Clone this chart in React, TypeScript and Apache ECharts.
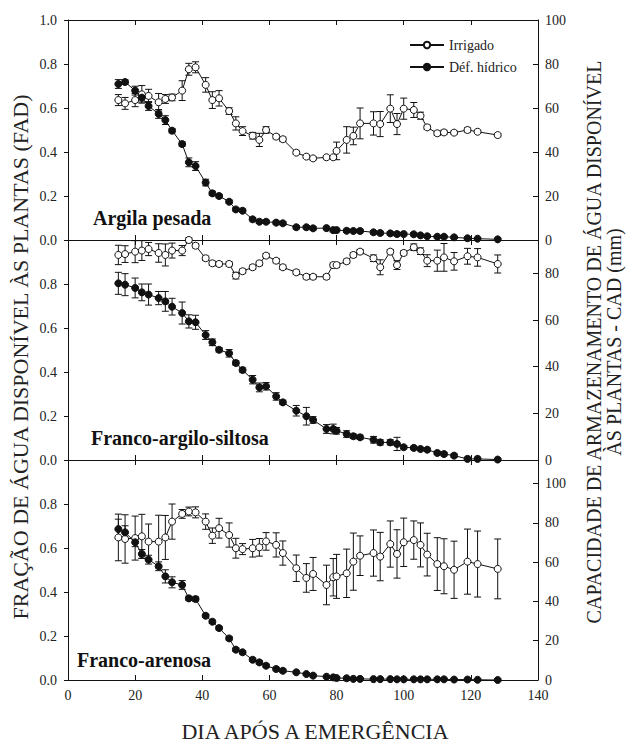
import React, { useEffect, useRef } from "react";
import * as echarts from "echarts";

// Days after emergence (shared sampling days)
const DAYS = [15, 17, 20, 22, 24, 27, 29, 31, 34, 36, 38, 41, 43, 45, 48, 50, 52, 55, 57, 59, 62, 64, 68, 71, 73, 77, 79, 80, 83, 85, 87, 91, 93, 96, 98, 100, 103, 105, 107, 110, 112, 115, 119, 122, 128];

// Argila pesada
const ARG_IRR = [0.636, 0.621, 0.636, 0.662, 0.655, 0.626, 0.641, 0.648, 0.679, 0.776, 0.785, 0.705, 0.636, 0.644, 0.586, 0.53, 0.495, 0.474, 0.455, 0.5, 0.47, 0.458, 0.397, 0.379, 0.371, 0.376, 0.376, 0.405, 0.455, 0.473, 0.53, 0.53, 0.527, 0.597, 0.527, 0.597, 0.591, 0.565, 0.512, 0.485, 0.489, 0.488, 0.5, 0.492, 0.477];
const ARG_IRR_ERR = [0.025, 0.027, 0.03, 0.04, 0.03, 0.04, 0.02, 0.015, 0.045, 0.027, 0.025, 0.033, 0.038, 0.035, 0.015, 0.03, 0.02, 0.015, 0.03, 0.015, 0.01, 0.01, 0.008, 0.008, 0.008, 0.008, 0.008, 0.04, 0.06, 0.04, 0.07, 0.053, 0.057, 0.063, 0.048, 0.048, 0.034, 0.016, 0.01, 0.01, 0.01, 0.008, 0.01, 0.008, 0.008];
const ARG_DEF = [0.709, 0.718, 0.679, 0.647, 0.609, 0.573, 0.545, 0.497, 0.436, 0.353, 0.336, 0.261, 0.212, 0.2, 0.174, 0.139, 0.133, 0.094, 0.083, 0.083, 0.079, 0.076, 0.058, 0.058, 0.053, 0.054, 0.045, 0.045, 0.042, 0.041, 0.041, 0.035, 0.032, 0.03, 0.027, 0.027, 0.026, 0.021, 0.017, 0.015, 0.015, 0.012, 0.008, 0.006, 0.003];
const ARG_DEF_ERR = [0.02, 0.01, 0.02, 0.02, 0.02, 0.02, 0.02, 0.01, 0.01, 0.02, 0.02, 0.015, 0.01, 0.008, 0.008, 0.008, 0.008, 0.008, 0.008, 0.008, 0.008, 0.008, 0.008, 0.008, 0.008, 0.008, 0.008, 0.008, 0.008, 0.008, 0.008, 0.008, 0.008, 0.008, 0.008, 0.008, 0.008, 0.006, 0.006, 0.006, 0.006, 0.005, 0.005, 0.005, 0.005];

// Franco-argilo-siltosa
const FAS_IRR = [0.932, 0.936, 0.947, 0.952, 0.959, 0.941, 0.932, 0.952, 0.952, 1.0, 0.974, 0.917, 0.894, 0.891, 0.891, 0.838, 0.858, 0.876, 0.894, 0.929, 0.906, 0.876, 0.853, 0.833, 0.833, 0.833, 0.886, 0.886, 0.903, 0.932, 0.947, 0.917, 0.876, 0.947, 0.886, 0.941, 0.967, 0.949, 0.906, 0.906, 0.921, 0.903, 0.926, 0.921, 0.891];
const FAS_IRR_ERR = [0.044, 0.038, 0.05, 0.045, 0.03, 0.042, 0.05, 0.034, 0.023, 0.01, 0.01, 0.01, 0.01, 0.01, 0.01, 0.015, 0.01, 0.01, 0.01, 0.01, 0.01, 0.01, 0.01, 0.01, 0.01, 0.01, 0.01, 0.01, 0.01, 0.01, 0.01, 0.015, 0.034, 0.01, 0.02, 0.01, 0.015, 0.015, 0.027, 0.048, 0.063, 0.04, 0.036, 0.04, 0.041];
const FAS_DEF = [0.803, 0.797, 0.782, 0.762, 0.752, 0.736, 0.721, 0.697, 0.668, 0.63, 0.626, 0.568, 0.535, 0.501, 0.485, 0.441, 0.409, 0.365, 0.33, 0.335, 0.289, 0.262, 0.224, 0.199, 0.182, 0.141, 0.141, 0.133, 0.118, 0.108, 0.103, 0.092, 0.08, 0.08, 0.073, 0.058, 0.055, 0.05, 0.047, 0.032, 0.027, 0.02, 0.005, 0.005, 0.002];
const FAS_DEF_ERR = [0.05, 0.05, 0.045, 0.038, 0.048, 0.03, 0.045, 0.038, 0.05, 0.03, 0.032, 0.02, 0.015, 0.01, 0.017, 0.01, 0.01, 0.019, 0.02, 0.017, 0.017, 0.01, 0.024, 0.04, 0.015, 0.02, 0.022, 0.015, 0.015, 0.01, 0.01, 0.015, 0.012, 0.012, 0.03, 0.008, 0.008, 0.008, 0.008, 0.008, 0.008, 0.008, 0.008, 0.008, 0.005];

// Franco-arenosa
const FAR_IRR = [0.648, 0.641, 0.645, 0.653, 0.629, 0.629, 0.648, 0.72, 0.755, 0.766, 0.762, 0.72, 0.656, 0.69, 0.659, 0.599, 0.595, 0.599, 0.603, 0.63, 0.614, 0.577, 0.508, 0.464, 0.482, 0.432, 0.467, 0.471, 0.485, 0.538, 0.565, 0.577, 0.561, 0.618, 0.573, 0.626, 0.636, 0.614, 0.57, 0.527, 0.517, 0.501, 0.538, 0.527, 0.505];
const FAR_IRR_ERR = [0.106, 0.11, 0.1, 0.1, 0.08, 0.12, 0.1, 0.08, 0.02, 0.02, 0.025, 0.035, 0.035, 0.045, 0.055, 0.045, 0.025, 0.04, 0.04, 0.04, 0.055, 0.055, 0.06, 0.065, 0.075, 0.09, 0.085, 0.1, 0.11, 0.13, 0.09, 0.105, 0.11, 0.105, 0.11, 0.11, 0.087, 0.1, 0.097, 0.12, 0.125, 0.13, 0.148, 0.15, 0.136];
const FAR_DEF = [0.686, 0.671, 0.626, 0.573, 0.547, 0.517, 0.471, 0.444, 0.432, 0.371, 0.368, 0.292, 0.265, 0.236, 0.189, 0.138, 0.126, 0.092, 0.08, 0.065, 0.05, 0.042, 0.035, 0.027, 0.02, 0.015, 0.012, 0.009, 0.008, 0.005, 0.005, 0.004, 0.004, 0.004, 0.003, 0.003, 0.003, 0.003, 0.003, 0.003, 0.003, 0.002, 0.002, 0.001, 0.0];
const FAR_DEF_ERR = [0.045, 0.03, 0.02, 0.02, 0.02, 0.02, 0.03, 0.025, 0.02, 0.01, 0.01, 0.008, 0.008, 0.008, 0.008, 0.008, 0.008, 0.008, 0.008, 0.008, 0.008, 0.008, 0.006, 0.006, 0.006, 0.006, 0.006, 0.006, 0.006, 0.005, 0.005, 0.005, 0.005, 0.005, 0.005, 0.005, 0.005, 0.005, 0.005, 0.005, 0.005, 0.005, 0.005, 0.005, 0.005];

const PANEL_LABELS = ["Argila pesada", "Franco-argilo-siltosa", "Franco-arenosa"];
const SERIES_NAMES = ["Irrigado", "Déf. hídrico"];
// right-axis (CAD, mm) value at FAD = 1.0 for each soil
const CAD_MAX = [100, 94.3, 112];
const CAD_INTERVAL = 20;

const PANELS = [
  { irr: ARG_IRR, irrErr: ARG_IRR_ERR, def: ARG_DEF, defErr: ARG_DEF_ERR },
  { irr: FAS_IRR, irrErr: FAS_IRR_ERR, def: FAS_DEF, defErr: FAS_DEF_ERR },
  { irr: FAR_IRR, irrErr: FAR_IRR_ERR, def: FAR_DEF, defErr: FAR_DEF_ERR },
];

const FONT = "Liberation Serif";
const TOPS = [20, 240, 460];
const LABEL_POS = [
  [93, 208],
  [91, 428],
  [77, 650],
];

const errRender = (params: any, api: any) => {
  const x = api.value(0);
  const y = api.value(1);
  const e = api.value(2);
  const t = api.coord([x, y + e]);
  const b = api.coord([x, y - e]);
  const hw = 3.5;
  return {
    type: "group",
    children: [
      { type: "line", shape: { x1: t[0], y1: t[1], x2: b[0], y2: b[1] }, style: { stroke: "#111", lineWidth: 1 } },
      { type: "line", shape: { x1: t[0] - hw, y1: t[1], x2: t[0] + hw, y2: t[1] }, style: { stroke: "#111", lineWidth: 1 } },
      { type: "line", shape: { x1: b[0] - hw, y1: b[1], x2: b[0] + hw, y2: b[1] }, style: { stroke: "#111", lineWidth: 1 } },
    ],
  };
};

const cadFmt = (v: number) =>
  Math.abs(v / CAD_INTERVAL - Math.round(v / CAD_INTERVAL)) < 1e-6 ? String(Math.round(v)) : "";

export default function App() {
  const ref = useRef<HTMLDivElement>(null);
  useEffect(() => {
    document.body.style.margin = "0";
    if (!ref.current) return;
    const chart = echarts.init(ref.current, null, { renderer: "svg" });

    const grid: any[] = [];
    const xAxis: any[] = [];
    const yAxis: any[] = [];
    const series: any[] = [];

    PANELS.forEach((p, i) => {
      grid.push({ left: 68, width: 470, top: TOPS[i], height: 220 });
      xAxis.push({
        type: "value",
        gridIndex: i,
        position: "bottom",
        min: 0,
        max: 140,
        interval: 20,
        axisLine: { show: true, onZero: false, lineStyle: { color: "#111", width: 1 } },
        axisTick: { show: true, inside: true, length: 5, lineStyle: { color: "#111" } },
        axisLabel: { show: i === 2, margin: 8, fontFamily: FONT, fontSize: 14, color: "#222" },
        splitLine: { show: false },
      });
      xAxis.push({
        type: "value",
        gridIndex: i,
        position: "top",
        min: 0,
        max: 140,
        interval: 20,
        axisLine: { show: true, onZero: false, lineStyle: { color: "#111", width: 1 } },
        axisTick: { show: true, inside: true, length: 5, lineStyle: { color: "#111" } },
        axisLabel: { show: false },
        splitLine: { show: false },
      });
      yAxis.push({
        type: "value",
        gridIndex: i,
        position: "left",
        min: 0,
        max: 1,
        interval: 0.2,
        axisLine: { show: true, onZero: false, lineStyle: { color: "#111", width: 1 } },
        axisTick: { show: true, inside: false, length: 4, lineStyle: { color: "#111" } },
        axisLabel: {
          fontFamily: FONT,
          fontSize: 14,
          color: "#222",
          margin: 11,
          showMaxLabel: i === 0,
          formatter: (v: number) => v.toFixed(1),
        },
        splitLine: { show: false },
      });
      yAxis.push({
        type: "value",
        gridIndex: i,
        position: "right",
        min: 0,
        max: CAD_MAX[i],
        interval: CAD_INTERVAL,
        axisLine: { show: true, onZero: false, lineStyle: { color: "#111", width: 1 } },
        axisTick: { show: true, inside: true, length: 5, lineStyle: { color: "#111" } },
        axisLabel: { fontFamily: FONT, fontSize: 14, color: "#222", margin: 7, formatter: cadFmt },
        splitLine: { show: false },
      });

      const xi = i * 2;
      const yi = i * 2;
      series.push({
        type: "custom",
        xAxisIndex: xi,
        yAxisIndex: yi,
        renderItem: errRender,
        data: DAYS.map((d, k) => [d, p.irr[k], p.irrErr[k]]),
        encode: { x: 0, y: 1 },
        z: 1,
      });
      series.push({
        type: "custom",
        xAxisIndex: xi,
        yAxisIndex: yi,
        renderItem: errRender,
        data: DAYS.map((d, k) => [d, p.def[k], p.defErr[k]]),
        encode: { x: 0, y: 1 },
        z: 1,
      });
      series.push({
        name: SERIES_NAMES[0],
        type: "line",
        xAxisIndex: xi,
        yAxisIndex: yi,
        data: DAYS.map((d, k) => [d, p.irr[k]]),
        symbol: "circle",
        symbolSize: 7,
        lineStyle: { color: "#111", width: 1 },
        itemStyle: { color: "#fff", borderColor: "#111", borderWidth: 1 },
        z: 3,
      });
      series.push({
        name: SERIES_NAMES[1],
        type: "line",
        xAxisIndex: xi,
        yAxisIndex: yi,
        data: DAYS.map((d, k) => [d, p.def[k]]),
        symbol: "circle",
        symbolSize: 7,
        lineStyle: { color: "#111", width: 1 },
        itemStyle: { color: "#111", borderColor: "#111", borderWidth: 1 },
        z: 4,
      });
    });

    const graphic: any[] = PANEL_LABELS.map((t, i) => ({
      type: "text",
      x: LABEL_POS[i][0],
      y: LABEL_POS[i][1],
      style: { text: t, fontFamily: FONT, fontWeight: "bold", fontSize: 20, fill: "#111" },
    }));
    graphic.push({
      type: "text",
      x: 20,
      y: 357,
      rotation: Math.PI / 2,
      style: {
        text: "FRAÇÃO DE ÁGUA DISPONÍVEL ÀS PLANTAS (FAD)",
        fontFamily: FONT,
        fontSize: 22,
        fill: "#222",
        align: "center",
        verticalAlign: "middle",
      },
    });
    graphic.push({
      type: "text",
      x: 594,
      y: 342,
      rotation: Math.PI / 2,
      style: {
        text: "CAPACIDADE DE ARMAZENAMENTO DE ÁGUA DISPONÍVEL",
        fontFamily: FONT,
        fontSize: 20,
        fill: "#222",
        align: "center",
        verticalAlign: "middle",
      },
    });
    graphic.push({
      type: "text",
      x: 614,
      y: 342,
      rotation: Math.PI / 2,
      style: {
        text: "ÀS PLANTAS - CAD (mm)",
        fontFamily: FONT,
        fontSize: 20,
        fill: "#222",
        align: "center",
        verticalAlign: "middle",
      },
    });
    graphic.push({
      type: "text",
      x: 315,
      y: 731,
      style: {
        text: "DIA APÓS A EMERGÊNCIA",
        fontFamily: FONT,
        fontSize: 22,
        fill: "#222",
        align: "center",
        verticalAlign: "middle",
      },
    });

    chart.setOption({
      animation: false,
      backgroundColor: "#fff",
      textStyle: { fontFamily: FONT },
      legend: {
        data: SERIES_NAMES,
        orient: "vertical",
        left: 404,
        top: 33,
        itemWidth: 34,
        itemHeight: 8,
        itemGap: 8,
        textStyle: { fontFamily: FONT, fontSize: 14, color: "#222" },
      },
      grid,
      xAxis,
      yAxis,
      series,
      graphic,
    });
    return () => chart.dispose();
  }, []);
  return <div ref={ref} style={{ width: 627, height: 743 }} />;
}
